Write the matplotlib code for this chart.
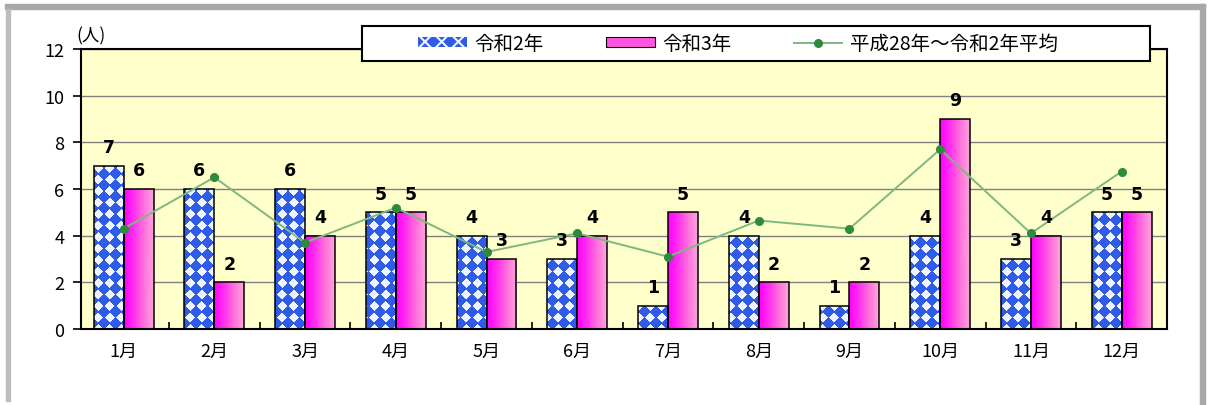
import numpy as np
import matplotlib
matplotlib.use("Agg")
import matplotlib.pyplot as plt
from matplotlib.colors import LinearSegmentedColormap, to_rgb
from matplotlib.patches import Patch, Rectangle
from matplotlib.lines import Line2D
from matplotlib.path import Path

plt.rcParams["font.family"] = ["Noto Sans CJK JP", "DejaVu Sans"]
plt.rcParams["hatch.linewidth"] = 1.5

# data
months = ["1月", "2月", "3月", "4月", "5月", "6月",
          "7月", "8月", "9月", "10月", "11月", "12月"]
reiwa2 = [7, 6, 6, 5, 4, 3, 1, 4, 1, 4, 3, 5]
reiwa3 = [6, 2, 4, 5, 3, 4, 5, 2, 2, 9, 4, 5]
average = [4.3, 6.5, 3.7, 5.2, 3.3, 4.1, 3.1, 4.65, 4.3, 7.7, 4.1, 6.75]
yticks = [0, 2, 4, 6, 8, 10, 12]
series_names = ["令和2年", "令和3年", "平成28年～令和2年平均"]

W, H = 1210, 406
ax_l, ax_r, ax_t, ax_b = 81, 1167, 50, 330
fig = plt.figure(figsize=(W / 100, H / 100), dpi=100)
ax = fig.add_axes([ax_l / W, 1 - ax_b / H, (ax_r - ax_l) / W, (ax_b - ax_t) / H])
ax.set_facecolor("#ffffcc")

x = np.arange(len(months))
w = 0.33
xlim = (-0.47, 11.5)
ylim = (0, 12)
blue = "#2f5ce6"
light = "#eef3ff"
green_line = "#7fb87f"
green_dot = "#2e8b3e"
pink_cmap = LinearSegmentedColormap.from_list(
    "pink", ["#ff00ff", "#ff30ee", "#ff70dc", "#ffa4dc"])

# 令和2年: blue bars with white diamond pattern
bars2 = ax.bar(x - w / 2, reiwa2, w, color=blue, linewidth=0, zorder=2)
pw, ph = ax_r - ax_l, ax_b - ax_t
yy, xx = np.mgrid[0:ph, 0:pw] + 0.5
s = 11.5
u = (xx + yy) / s
v = (xx - yy) / s
even = (np.floor(u) + np.floor(v)) % 2 == 0
white = even & (np.abs(u % 1 - 0.5) < 0.43) & (np.abs(v % 1 - 0.5) < 0.43)
pattern = np.empty((ph, pw, 3))
pattern[:] = to_rgb(blue)
pattern[white] = to_rgb(light)
pattern_img = ax.imshow(pattern, extent=[*xlim, *ylim], origin="lower",
                        interpolation="nearest", aspect="auto", zorder=2.5)
clip = Path.make_compound_path(
    *[b.get_path().transformed(b.get_patch_transform()) for b in bars2])
pattern_img.set_clip_path(clip, ax.transData)
ax.bar(x - w / 2, reiwa2, w, fill=False, edgecolor="black", linewidth=1.1,
       zorder=3)

# 令和3年: magenta gradient
bars3 = ax.bar(x + w / 2, reiwa3, w, fill=False, edgecolor="black",
               linewidth=1.1, zorder=3)
grad = np.linspace(0, 1, 64).reshape(1, -1)
for b in bars3:
    x0, h = b.get_x(), b.get_height()
    ax.imshow(grad, extent=[x0, x0 + w, 0, h], aspect="auto",
              cmap=pink_cmap, zorder=2.5)

# average line
ax.plot(x, average, color=green_line, lw=1.4, marker="o", ms=5.5,
        mfc=green_dot, mec=green_dot, zorder=4)

# value labels
lab_font = dict(fontsize=12.5, fontweight="bold", family="DejaVu Sans")
for i in range(len(months)):
    ax.annotate(str(reiwa2[i]), (x[i] - w / 2, reiwa2[i]), xytext=(0, 7),
                textcoords="offset points", ha="center", va="bottom",
                zorder=5, **lab_font)
    ax.annotate(str(reiwa3[i]), (x[i] + w / 2, reiwa3[i]), xytext=(0, 7),
                textcoords="offset points", ha="center", va="bottom",
                zorder=5, **lab_font)

ax.set_xlim(*xlim)
ax.set_ylim(*ylim)
ax.set_yticks(yticks)
ax.yaxis.grid(True, color="#808080", lw=1)
ax.set_axisbelow(True)
ax.tick_params(axis="y", direction="out", length=6, width=1.2, pad=6,
               labelsize=13)
ax.set_xticks(x, months)
ax.tick_params(axis="x", which="major", length=0, pad=9, labelsize=13)
ax.set_xticks(x[:-1] + 0.5, minor=True)
ax.tick_params(axis="x", which="minor", direction="in", length=5, width=1.2)
for sp in ax.spines.values():
    sp.set_color("black")
    sp.set_linewidth(1.5)

fig.text(91 / W, 1 - 36 / H, "(人)", fontsize=12.5, ha="center", va="center")

# legend box
fig.patches.append(Rectangle((362 / W, 1 - 62 / H), 788 / W, 35 / H,
                             transform=fig.transFigure, facecolor="white",
                             edgecolor="black", lw=1.5, zorder=1))
handles = [
    Patch(facecolor=blue, edgecolor=light, hatch="xx", lw=0),
    Patch(facecolor="#ff55e0", edgecolor="black", lw=0.8),
    Line2D([], [], color=green_line, lw=1.4, marker="o", ms=5.5,
           mfc=green_dot, mec=green_dot),
]
fig.legend(handles, series_names, loc="center left",
           bbox_to_anchor=(418 / W, 1 - 44.5 / H), ncol=3, frameon=False,
           fontsize=14, handlelength=2.5, handleheight=0.45,
           handletextpad=0.4, columnspacing=3.2, borderpad=0,
           borderaxespad=0)

# outer frame
gray = "#a8a8a8"
fig.patches.append(Rectangle((5 / W, 1 - 10 / H), 1200 / W, 5 / H,
                             transform=fig.transFigure, color=gray, zorder=1))
fig.patches.append(Rectangle((6 / W, 4 / H), 4 / W, 392 / H,
                             transform=fig.transFigure, color="#bdbdbd", zorder=1))
fig.patches.append(Rectangle((1200 / W, 0), 5 / W, 1 - 5 / H,
                             transform=fig.transFigure, color=gray, zorder=1))

fig.savefig("out.png", dpi=100)
